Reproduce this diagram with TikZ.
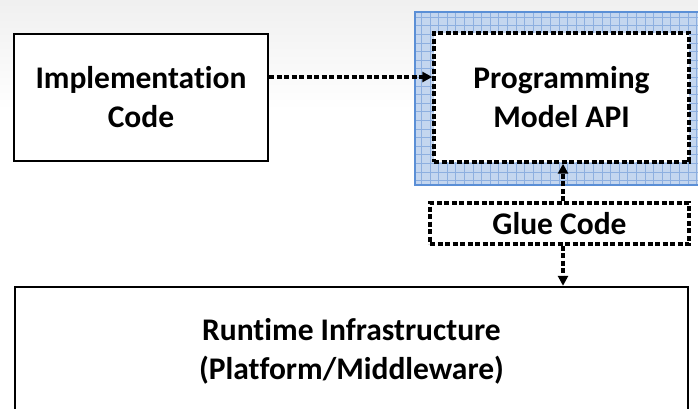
\documentclass[tikz,border=0pt]{standalone}
\usepackage{fontspec}
\setmainfont[Ligatures={NoCommon}]{Carlito}
\usetikzlibrary{arrows.meta}
\definecolor{bluefill}{HTML}{C4D6EF}
\definecolor{bluegrid}{HTML}{8DAFE0}
\definecolor{blueborder}{HTML}{5B8FD6}
\tikzset{
  solidbox/.style={draw=black, line width=2.4pt, fill=white, rectangle, align=center,
    font=\fontsize{31.5}{39}\selectfont\bfseries},
  dashbox/.style={draw=black, line width=3.4pt, dash pattern=on 5pt off 2.5pt, fill=white,
    rectangle, align=center, font=\fontsize{31.5}{39}\selectfont\bfseries},
  conn/.style={line width=3.4pt, dash pattern=on 5pt off 2.5pt,
    -{Triangle[length=10pt,width=10pt]}},
}
\begin{document}
\begin{tikzpicture}[x=1pt,y=-1pt]
\useasboundingbox (0,0) rectangle (698,409);
\fill[white] (0,0) rectangle (698,409);
\shade[top color=black!6, bottom color=white] (0,0) rectangle (698,110);
% blue patterned frame
\fill[bluefill] (415,12) rectangle (702,185);
\begin{scope}
\clip (415,12) rectangle (702,185);
\draw[bluegrid, line width=0.8pt, step=8.6pt] (415,12) grid (702,185);
\end{scope}
\draw[blueborder, line width=2pt] (702,12) -- (415,12) -- (415,185) -- (702,185);
% nodes
\node[solidbox, minimum width=254pt, minimum height=127pt] (imp) at (141,97.5) {Implementation\\Code};
\node[dashbox, minimum width=255pt, minimum height=129pt] (api) at (561.5,97.5) {Programming\\Model API};
\node[dashbox, minimum width=259pt, minimum height=41pt, inner sep=0pt] (glue) at (559.5,223.5) {Glue Code};
\node[solidbox, minimum width=673pt, minimum height=128pt] (rt) at (351.5,351) {Runtime Infrastructure\\(Platform/Middleware)};
\coordinate (ax) at (563,0);
% connectors
\draw[conn] ([yshift=20.5pt]imp.east) -- ([yshift=20.5pt]api.west);
\draw[conn] (glue.north -| ax) -- (api.south -| ax);
\draw[conn] (glue.south -| ax) -- (rt.north -| ax);
\end{tikzpicture}
\end{document}
